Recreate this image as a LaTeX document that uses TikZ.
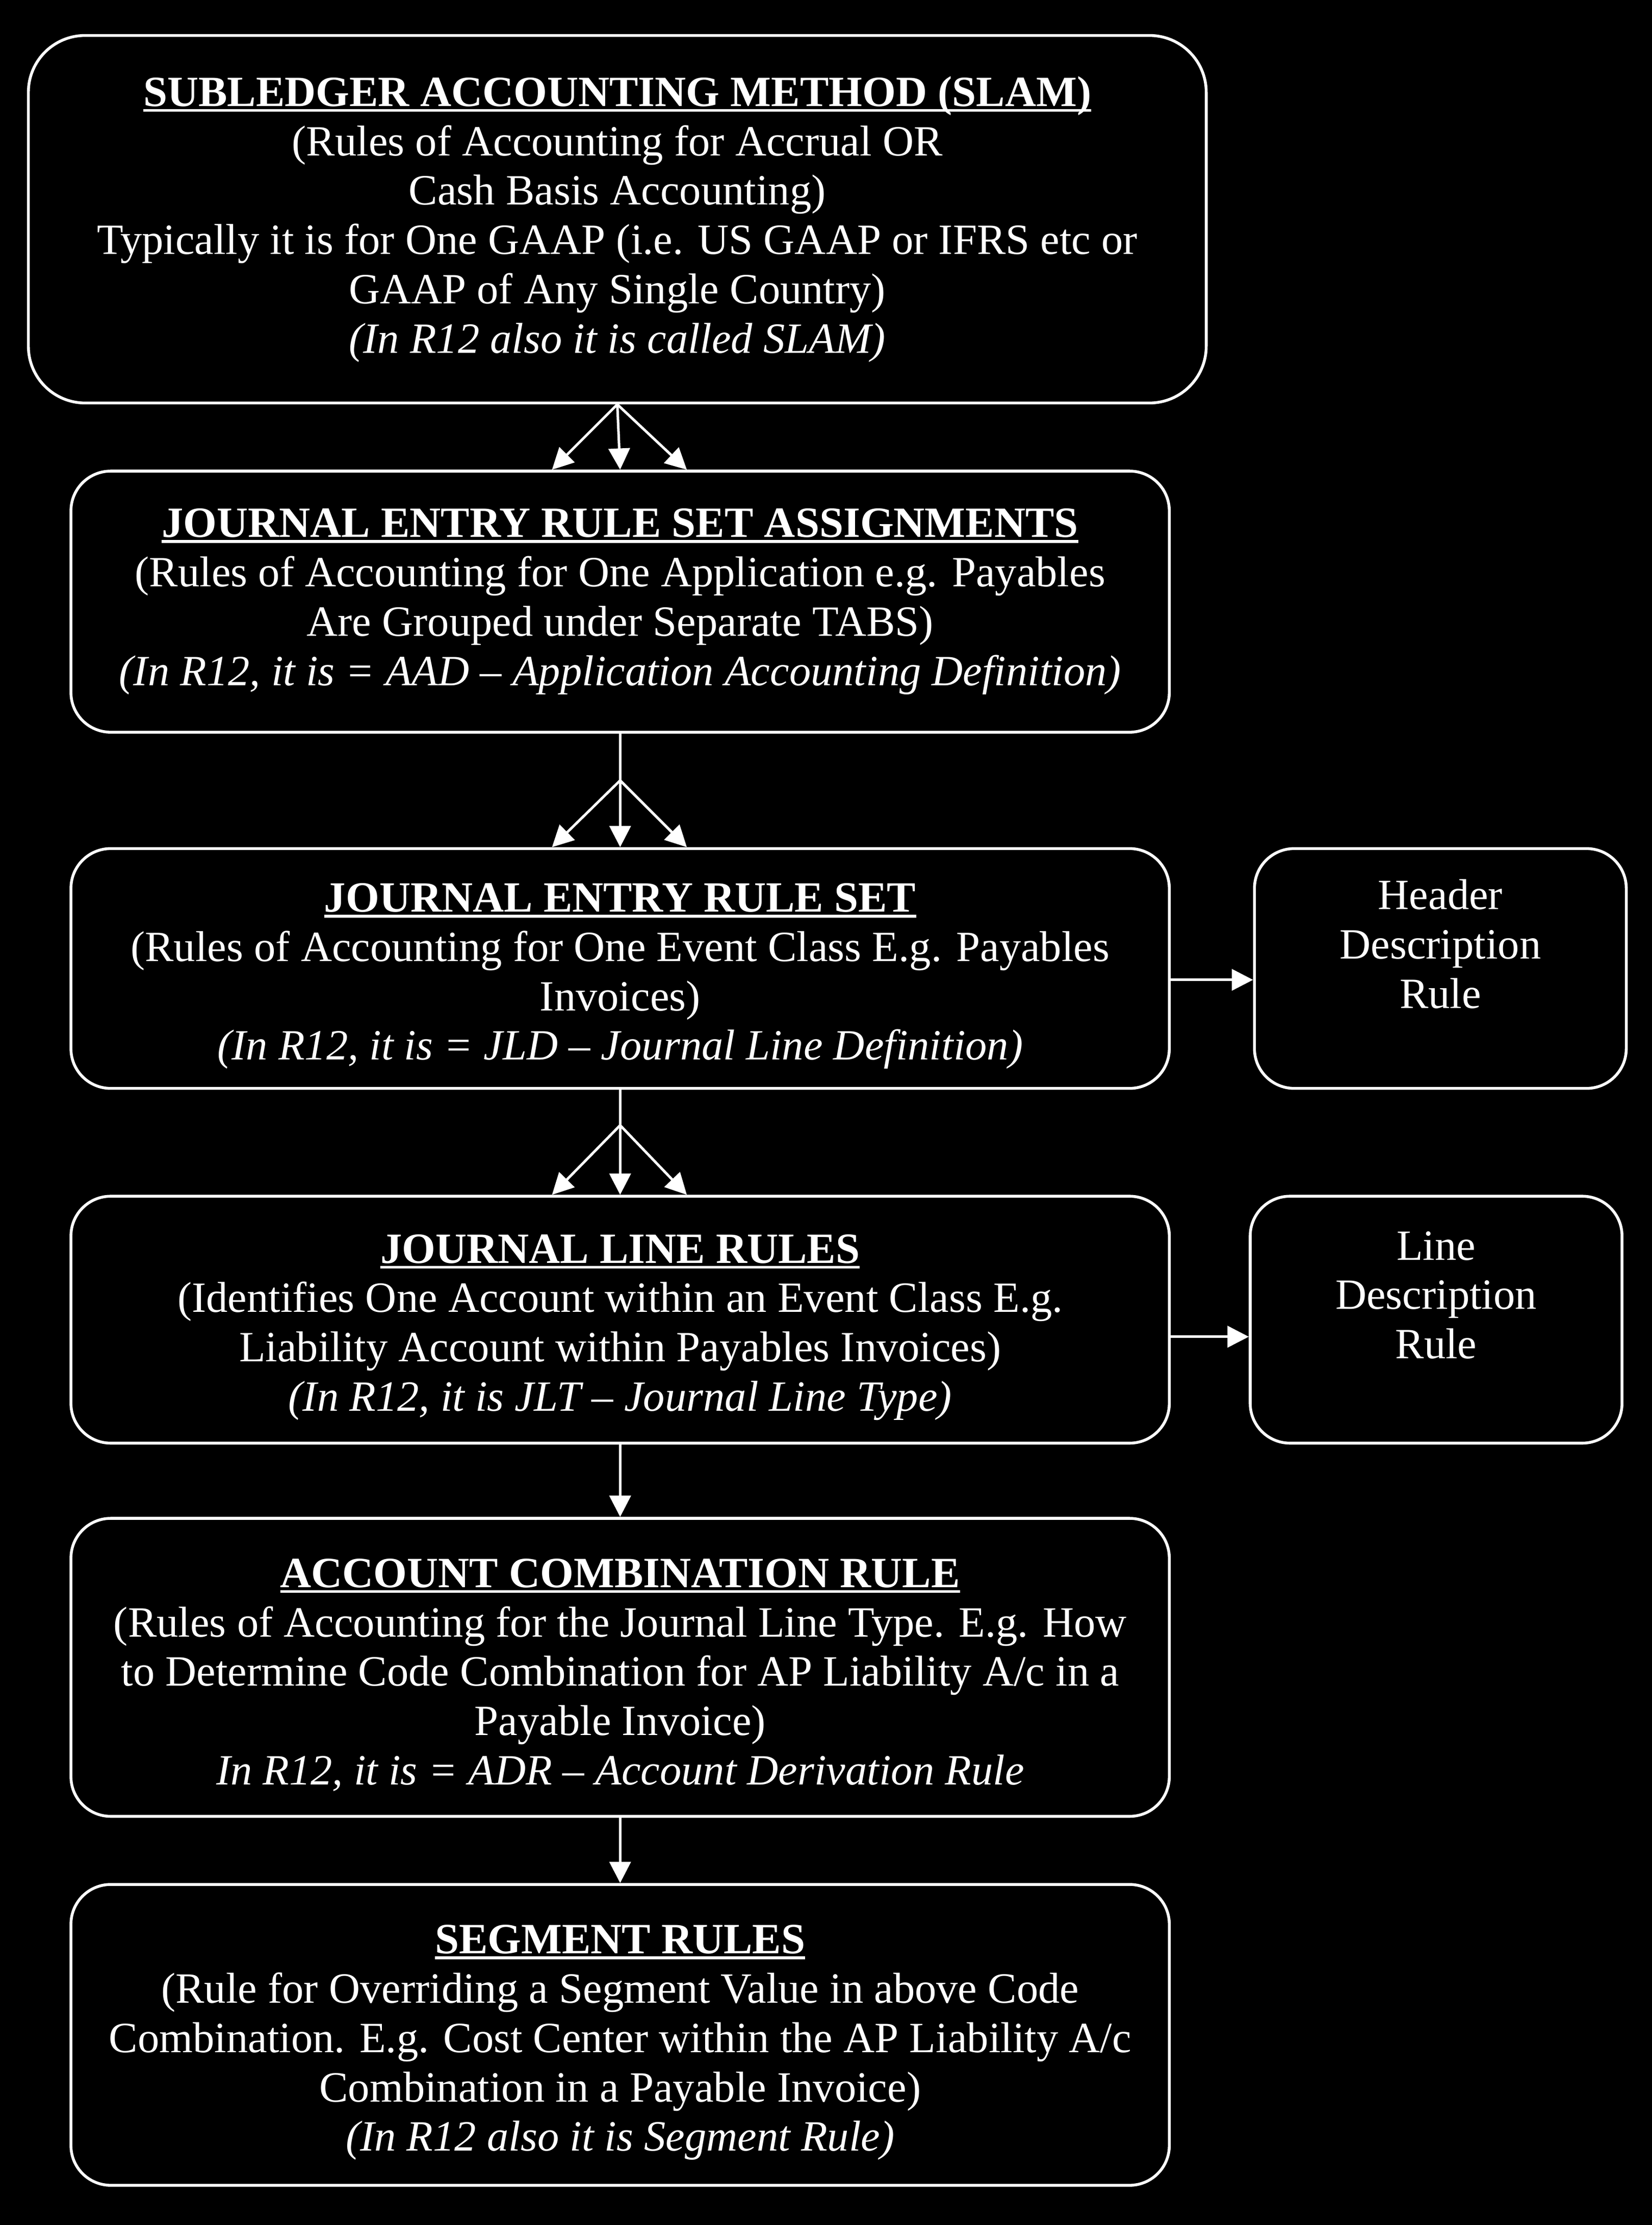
\documentclass[tikz,border=0pt]{standalone}
\usepackage{fontspec}
\setmainfont{Liberation Serif}
\usepackage{tikz}
\usetikzlibrary{arrows.meta,calc}

\tikzset{
  rulebox/.style={draw=white, line width=2pt, rounded corners=28pt, text=white,
    align=center, inner sep=0pt, minimum width=774pt,
    font=\fontsize{30.4}{34.8}\selectfont},
  sidebox/.style={rulebox, minimum width=262pt},
  flow/.style={->, draw=white, line width=1.8pt}
}
\newlength{\titlewd}
\newcommand{\boxtitle}[1]{\settowidth{\titlewd}{\textbf{#1}}%
  \textbf{#1}\llap{\rule[-4pt]{\titlewd}{2pt}}}
\newcommand{\lowtitle}[1]{\rule{0pt}{31pt}\boxtitle{#1}}

\begin{document}
\begin{tikzpicture}[x=1pt, y=-1pt, >={Triangle[length=15pt,width=15pt]}]
\fill[black] (0,0) rectangle (1164,1568);

\node[rulebox, rounded corners=40pt, minimum width=830pt, minimum height=259pt] (slam) at (435,154.5)
  {\boxtitle{SUBLEDGER ACCOUNTING METHOD (SLAM)}\\
   (Rules of Accounting for Accrual OR\\
   Cash Basis Accounting)\\
   Typically it is for One GAAP (i.e. US GAAP or IFRS etc or\\
   GAAP of Any Single Country)\\
   \textit{(In R12 also it is called SLAM)}};

\node[rulebox, minimum height=184pt] (jersa) at (437,424)
  {\boxtitle{JOURNAL ENTRY RULE SET ASSIGNMENTS}\\
   (Rules of Accounting for One Application e.g. Payables\\
   Are Grouped under Separate TABS)\\
   \textit{(In R12, it is = AAD -- Application Accounting Definition)}};

\node[rulebox, minimum height=169pt] (jers) at (437,682.5)
  {\lowtitle{JOURNAL ENTRY RULE SET}\\
   (Rules of Accounting for One Event Class E.g. Payables\\
   Invoices)\\
   \textit{(In R12, it is = JLD -- Journal Line Definition)}};

\node[sidebox, minimum height=169pt] (hdr) at (1015,682.5)
  {Header\\ Description\\ Rule\\ ~};

\node[rulebox, minimum height=174pt] (jlr) at (437,930)
  {\lowtitle{JOURNAL LINE RULES}\\
   (Identifies One Account within an Event Class E.g.\\
   Liability Account within Payables Invoices)\\
   \textit{(In R12, it is JLT -- Journal Line Type)}};

\node[sidebox, minimum height=174pt] (ldr) at (1012,930)
  {Line\\ Description\\ Rule\\ ~};

\node[rulebox, minimum height=210pt] (acr) at (437,1175)
  {\lowtitle{ACCOUNT COMBINATION RULE}\\
   (Rules of Accounting for the Journal Line Type. E.g. How\\
   to Determine Code Combination for AP Liability A/c in a\\
   Payable Invoice)\\
   \textit{In R12, it is = ADR -- Account Derivation Rule}};

\node[rulebox, minimum height=212pt] (seg) at (437,1434)
  {\lowtitle{SEGMENT RULES}\\
   (Rule for Overriding a Segment Value in above Code\\
   Combination. E.g. Cost Center within the AP Liability A/c\\
   Combination in a Payable Invoice)\\
   \textit{(In R12 also it is Segment Rule)}};

% branch points of the fans
\coordinate (fork1) at ($(jersa.south)+(0,33)$);
\coordinate (fork2) at ($(jers.south)+(0,25)$);

% SLAM -> assignments
\draw[flow] (slam.south) -- ([xshift=-48pt]jersa.north);
\draw[flow] (slam.south) -- (jersa.north);
\draw[flow] (slam.south) -- ([xshift=47pt]jersa.north);

% assignments -> rule set
\draw[flow] (jersa.south) -- (jers.north);
\draw[flow] (fork1) -- ([xshift=-48pt]jers.north);
\draw[flow] (fork1) -- ([xshift=47pt]jers.north);

% rule set -> line rules
\draw[flow] (jers.south) -- (jlr.north);
\draw[flow] (fork2) -- ([xshift=-48pt]jlr.north);
\draw[flow] (fork2) -- ([xshift=47pt]jlr.north);

\draw[flow] (jlr.south) -- (acr.north);
\draw[flow] (acr.south) -- (seg.north);

% description rules
\draw[flow] ([yshift=-8pt]jers.east) -- ([yshift=-8pt]hdr.west);
\draw[flow] ([yshift=-12pt]jlr.east) -- ([yshift=-12pt]ldr.west);

\end{tikzpicture}
\end{document}
